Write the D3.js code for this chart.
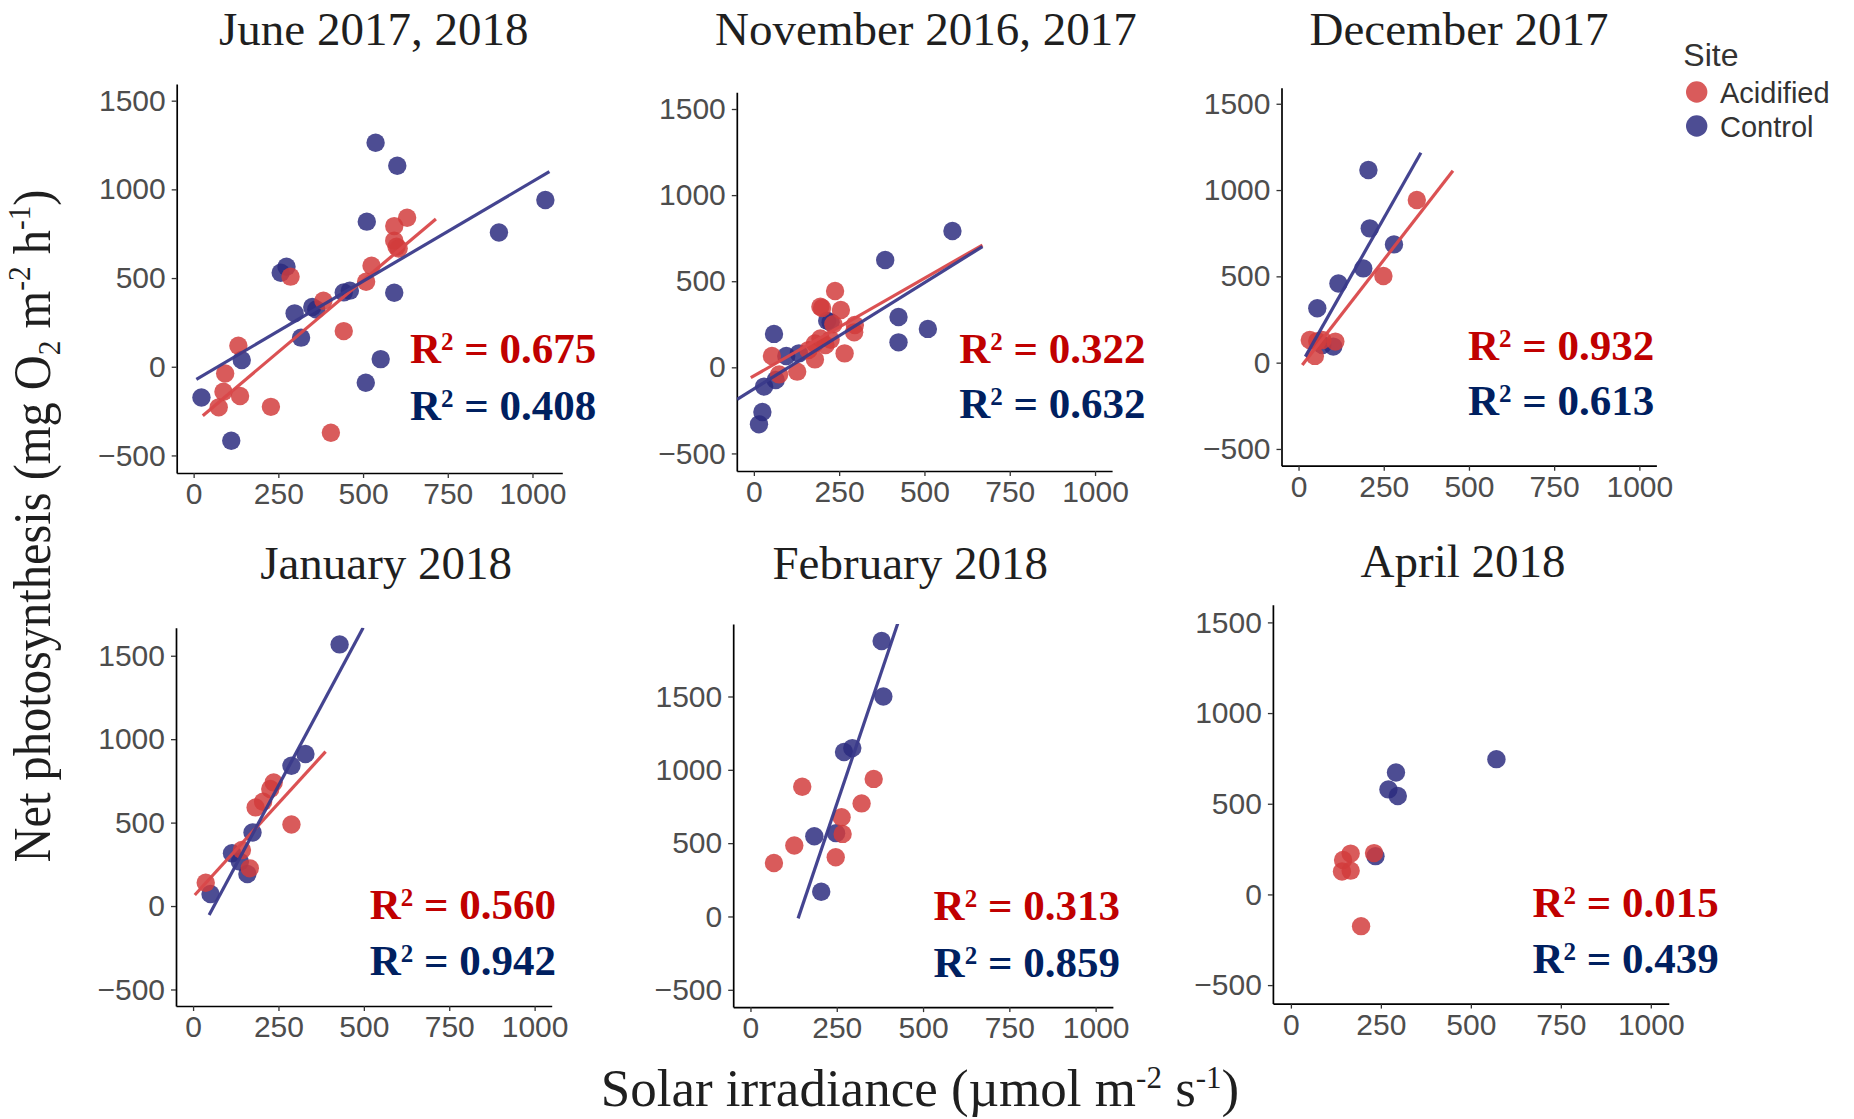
<!DOCTYPE html>
<html>
<head>
<meta charset="utf-8">
<script src="https://cdn.jsdelivr.net/npm/d3@7"></script>
<style>
  body { margin: 0; background: #ffffff; }
  svg { display: block; }
</style>
</head>
<body>
<svg id="chart" width="1854" height="1119"></svg>
<script>
// ---------------- data ----------------
const panelTitles = ["June 2017, 2018", "November 2016, 2017", "December 2017",
                     "January 2018", "February 2018", "April 2018"];
const sites = ["Acidified", "Control"];
const xTicks = [0, 250, 500, 750, 1000];
const yTicks = [-500, 0, 500, 1000, 1500];

const r2Acidified = [0.675, 0.322, 0.932, 0.560, 0.313, 0.015];
const r2Control   = [0.408, 0.632, 0.613, 0.942, 0.859, 0.439];

// [solar irradiance, net photosynthesis]
const juneControl = [[537,1263],[601,1133],[1038,940],[901,757],[511,818],[274,564],[257,530],
  [592,417],[443,419],[461,429],[350,337],[362,323],[298,301],[317,164],[142,38],[552,43],
  [508,-90],[23,-173],[111,-417]];
const juneAcidified = [[630,840],[592,793],[592,711],[599,677],[605,667],[525,570],[509,479],
  [286,508],[383,372],[443,201],[132,118],[93,-38],[88,-141],[137,-165],[74,-229],[228,-226],[405,-372]];

const novControl = [[582,792],[385,623],[424,292],[424,145],[510,223],[59,194],[215,271],
  [225,262],[95,66],[132,81],[64,-74],[30,-112],[25,-259],[15,-331]];
const novAcidified = [[238,443],[195,352],[200,345],[255,333],[296,246],[294,203],[233,250],
  [195,168],[179,139],[210,130],[225,160],[53,66],[179,46],[266,81],[127,-25],[74,-41],[160,100]];

const decControl = [[205,1116],[209,778],[280,685],[190,546],[117,459],[55,315],[102,93],[70,102]];
const decAcidified = [[347,942],[249,502],[33,131],[70,131],[108,122],[48,39],[55,125]];

const janControl = [[429,1568],[329,911],[288,841],[174,441],[114,316],[137,266],[159,192],[51,72]];
const janAcidified = [[236,741],[226,701],[205,625],[183,591],[288,489],[143,336],[166,226],[37,140]];

const febControl = [[380,1878],[385,1500],[295,1148],[271,1122],[185,547],[248,568],[205,169]];
const febAcidified = [[357,938],[150,885],[322,771],[264,677],[267,563],[127,484],[68,365],[247,404]];

const aprControl = [[571,746],[292,672],[271,579],[297,543],[235,211]];
const aprAcidified = [[231,228],[166,225],[145,190],[142,126],[166,131],[195,-175]];

// fitted regression segments, [start, end] in data units
const juneAcidFit = [[27,-276],[715,833]];
const juneCtrlFit = [[8,-71],[1050,1100]];
const novAcidFit  = [[-9,-60],[670,710]];
const novCtrlFit  = [[-49,-186],[670,701]];
const decAcidFit  = [[11,-14],[453,1112]];
const decCtrlFit  = [[20,35],[359,1216]];
const janAcidFit  = [[5,66],[388,925]];
const janCtrlFit  = [[47,-54],[498,1668]];
const febCtrlFit  = [[138,-13],[427,2000]];

// axis ranges per panel
const xDomains = [[-50,1088],[-50,1050],[-50,1050],[-50,1050],[-50,1050],[-50,1050]];
const yDomains = [[-599,1594],[-602,1597],[-597,1593],[-599,1668],[-618,1995],[-602,1597]];

// ---------------- layout ----------------
const boxes = [
  {x0:176.7, x1:562.3, y0:84,    y1:473},
  {x0:736.8, x1:1112.1, y0:92.3, y1:471},
  {x0:1281.5, x1:1656.4, y0:87.7, y1:465.7},
  {x0:176,   x1:551.7, y0:627.7, y1:1006},
  {x0:733.2, x1:1112.9, y0:623.9, y1:1007.1},
  {x0:1272.9, x1:1668.8, y0:604.8, y1:1003.6}
];
const titlePos = [[373.7,45],[925.9,45],[1459,45],[386.1,579],[910.2,579],[1463.1,577.3]];
const r2Pos = [[410,362.7,420],[959.3,362.7,418.3],[1468,360,415],
               [369.7,919.2,974.6],[933.6,920.3,976.5],[1532.5,916.5,972.7]];

const colors = { Acidified: "#d23b3b", Control: "#2b2b7e" };
const lineColors = { Acidified: "#d9484a", Control: "#3a3a8a" };
const r2Colors = { Acidified: "#c00000", Control: "#002060" };

const SERIF = "'Liberation Serif','Times New Roman',Times,serif";
const SANS = "'Liberation Sans',Arial,Helvetica,sans-serif";
const tickFmt = d3.format("d");

const panels = [
  { control: juneControl, acid: juneAcidified, acidFit: juneAcidFit, ctrlFit: juneCtrlFit },
  { control: novControl,  acid: novAcidified,  acidFit: novAcidFit,  ctrlFit: novCtrlFit },
  { control: decControl,  acid: decAcidified,  acidFit: decAcidFit,  ctrlFit: decCtrlFit },
  { control: janControl,  acid: janAcidified,  acidFit: janAcidFit,  ctrlFit: janCtrlFit },
  { control: febControl,  acid: febAcidified,  acidFit: null,        ctrlFit: febCtrlFit },
  { control: aprControl,  acid: aprAcidified,  acidFit: null,        ctrlFit: null }
];

const svg = d3.select("#chart");
const defs = svg.append("defs");

panels.forEach((p, i) => {
  const b = boxes[i];
  const x = d3.scaleLinear().domain(xDomains[i]).range([b.x0, b.x1]);
  const y = d3.scaleLinear().domain(yDomains[i]).range([b.y1, b.y0]);
  const g = svg.append("g").attr("class", "panel");

  defs.append("clipPath").attr("id", "clip" + i)
    .append("rect").attr("x", b.x0).attr("y", b.y0)
    .attr("width", b.x1 - b.x0).attr("height", b.y1 - b.y0);

  // axes
  const yAxis = g.append("g").attr("transform", `translate(${b.x0},0)`)
    .call(d3.axisLeft(y).tickValues(yTicks).tickFormat(tickFmt)
      .tickSize(5).tickSizeOuter(0).tickPadding(6));
  const xAxis = g.append("g").attr("transform", `translate(0,${b.y1})`)
    .call(d3.axisBottom(x).tickValues(xTicks).tickFormat(tickFmt)
      .tickSize(5).tickSizeOuter(0).tickPadding(5));
  [xAxis, yAxis].forEach(ax => {
    ax.select(".domain").attr("stroke", "#000").attr("stroke-width", 1.7);
    ax.selectAll(".tick line").attr("stroke", "#333").attr("stroke-width", 1.3);
    ax.selectAll(".tick text").attr("fill", "#4d4d4d")
      .style("font-family", SANS).style("font-size", "30px");
  });

  const plot = g.append("g").attr("clip-path", `url(#clip${i})`);

  // points: control first, acidified on top
  [["Control", p.control], ["Acidified", p.acid]].forEach(([site, pts]) => {
    plot.selectAll(null).data(pts).enter().append("circle")
      .attr("cx", d => x(d[0])).attr("cy", d => y(d[1]))
      .attr("r", 9.2)
      .attr("fill", colors[site]).attr("fill-opacity", 0.84);
  });

  // regression lines
  const line = d3.line().x(d => x(d[0])).y(d => y(d[1]));
  [["Acidified", p.acidFit], ["Control", p.ctrlFit]].forEach(([site, seg]) => {
    if (!seg) return;
    plot.append("path").datum(seg).attr("d", line)
      .attr("fill", "none").attr("stroke", lineColors[site])
      .attr("stroke-width", 3.2).attr("stroke-opacity", 0.95);
  });

  // panel title
  svg.append("text")
    .attr("x", titlePos[i][0]).attr("y", titlePos[i][1])
    .attr("text-anchor", "middle")
    .style("font-family", SERIF).style("font-size", "47px").attr("fill", "#1f1f1f")
    .text(panelTitles[i]);

  // R² annotations
  [["Acidified", r2Acidified[i], r2Pos[i][1]], ["Control", r2Control[i], r2Pos[i][2]]]
    .forEach(([site, val, by]) => {
      const t = svg.append("text")
        .attr("x", r2Pos[i][0]).attr("y", by)
        .attr("fill", r2Colors[site])
        .style("font-family", SERIF).style("font-weight", "bold").style("font-size", "43px");
      t.append("tspan").text("R");
      t.append("tspan").attr("dy", -13).style("font-size", "25px").text("2");
      t.append("tspan").attr("dy", 13).text(" = " + val.toFixed(3));
    });
});

// y-axis title
const yt = svg.append("text")
  .attr("text-anchor", "middle")
  .style("font-family", SERIF).style("font-size", "53px").attr("fill", "#1f1f1f");
yt.append("tspan").text("Net photosynthesis (mg O");
yt.append("tspan").attr("dy", 10).style("font-size", "32px").text("2");
yt.append("tspan").attr("dy", -10).text(" m");
yt.append("tspan").attr("dy", -20).style("font-size", "32px").text("-2");
yt.append("tspan").attr("dy", 20).text(" h");
yt.append("tspan").attr("dy", -20).style("font-size", "32px").text("-1");
yt.append("tspan").attr("dy", 20).text(")");
{
  const len = yt.node().getComputedTextLength();
  const s = 673 / len;
  yt.attr("transform", `translate(50,526) rotate(-90) scale(${s},1)`);
}

// x-axis title
const xt = svg.append("text")
  .attr("x", 920).attr("y", 1106)
  .attr("text-anchor", "middle")
  .style("font-family", SERIF).style("font-size", "53px").attr("fill", "#1f1f1f");
xt.append("tspan").text("Solar irradiance (\u00b5mol m");
xt.append("tspan").attr("dy", -18).style("font-size", "31px").text("-2");
xt.append("tspan").attr("dy", 18).text(" s");
xt.append("tspan").attr("dy", -18).style("font-size", "31px").text("-1");
xt.append("tspan").attr("dy", 18).text(")");

// legend
const lg = svg.append("g");
lg.append("text").attr("x", 1683.3).attr("y", 66)
  .style("font-family", SANS).style("font-size", "32px").attr("fill", "#333")
  .text("Site");
sites.forEach((s, k) => {
  const cy = 92 + k * 34;
  lg.append("circle").attr("cx", 1696.7).attr("cy", cy).attr("r", 10.7)
    .attr("fill", colors[s]).attr("fill-opacity", 0.84);
  lg.append("text").attr("x", 1720).attr("y", cy + 10.5)
    .style("font-family", SANS).style("font-size", "29px").attr("fill", "#333")
    .text(s);
});
</script>
</body>
</html>
